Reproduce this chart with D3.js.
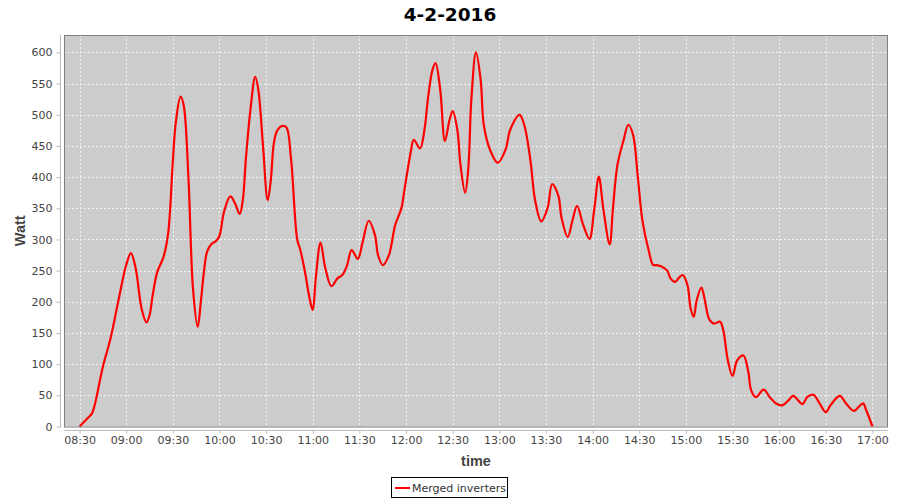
<!DOCTYPE html>
<html>
<head>
<meta charset="utf-8">
<script src="https://cdn.jsdelivr.net/npm/d3@7/dist/d3.min.js"></script>
<style>
  html, body { margin: 0; padding: 0; background: #ffffff; }
  svg { display: block; }
</style>
</head>
<body>
<svg id="chart" width="900" height="500"></svg>
<script>
const chartTitle = "4-2-2016";
const xLabel = "time";
const yLabel = "Watt";
const seriesName = "Merged inverters";
const yTicks = [0, 50, 100, 150, 200, 250, 300, 350, 400, 450, 500, 550, 600];
const xTickLabels = ["08:30","09:00","09:30","10:00","10:30","11:00","11:30","12:00","12:30","13:00","13:30","14:00","14:30","15:00","15:30","16:00","16:30","17:00"];

const times = ["08:30","08:35","08:38","08:40","08:45","08:50","08:55","09:00","09:03","09:06",
  "09:10","09:13","09:15","09:17","09:20","09:24","09:27","09:30","09:32","09:35",
  "09:37","09:40","09:43","09:46","09:48","09:50","09:52","09:55","09:58","10:00",
  "10:03","10:07","10:10","10:13","10:15","10:17","10:20","10:23","10:25","10:28",
  "10:31","10:33","10:35","10:37","10:40","10:43","10:46","10:50","10:52",
  "10:55","10:58","11:00","11:02","11:05","11:08","11:12","11:16","11:19","11:22",
  "11:25","11:29","11:32","11:36","11:40","11:42","11:45","11:49","11:53","11:57",
  "11:59","12:03","12:05","12:09","12:12","12:14","12:17","12:19","12:22","12:25",
  "12:28","12:30","12:33","12:35","12:38","12:40","12:42","12:45","12:48","12:50",
  "12:54","12:59","13:04","13:07","13:13","13:16","13:20","13:23","13:27","13:31",
  "13:34","13:38","13:40","13:44","13:47","13:50","13:54","13:58","14:01","14:04",
  "14:07","14:11","14:13","14:16","14:20","14:23","14:26","14:29","14:32","14:36",
  "14:39","14:41","14:44","14:48","14:50","14:53","14:56","14:58","15:01","15:03",
  "15:05","15:07","15:10","15:12","15:15","15:18","15:22","15:24","15:27","15:30",
  "15:33","15:37","15:40","15:42","15:45","15:50","15:54","15:58","16:02","16:06",
  "16:09","16:15","16:18","16:22","16:26","16:30","16:33","16:39","16:43","16:48",
  "16:51","16:54","16:56","17:00"];
const watts = [0,13,21,37,96,142,202,259,278,255,
  188,167,178,210,248,272,310,425,490,529,
  515,401,220,160,200,248,280,293,298,306,
  345,369,358,341,363,430,510,561,540,450,
  363,395,455,474,482,480,430,300,283,
  248,205,187,240,295,255,225,238,243,258,
  283,269,295,330,307,275,259,275,323,350,
  380,440,460,446,479,524,572,583,540,458,
  492,506,476,420,375,412,524,600,556,484,
  444,423,444,476,500,484,427,363,329,350,
  389,370,335,304,330,354,323,301,347,401,
  347,292,347,420,460,484,468,403,331,283,
  259,259,257,250,238,232,240,243,227,190,
  176,203,223,205,172,165,168,155,106,81,
  106,114,90,58,47,59,47,37,34,42,
  49,36,47,51,37,23,34,49,37,25,
  31,37,26,0];

const parseT = d3.timeParse("%Y-%m-%d %H:%M");
const day = "2016-02-04 ";
const data = times.map((t, i) => ({ t: parseT(day + t), v: watts[i] }));

const svg = d3.select("#chart");
const plot = { left: 64, right: 888, top: 35, bottom: 426.5 };

const x = d3.scaleTime()
  .domain([parseT(day + "08:20"), parseT(day + "17:10")])
  .range([plot.left, plot.right]);
const y = d3.scaleLinear().domain([0, 628]).range([plot.bottom, plot.top]);

const xTickDates = xTickLabels.map(s => parseT(day + s));

// Title
svg.append("text")
  .attr("x", 450).attr("y", 21)
  .attr("text-anchor", "middle")
  .attr("font-family", "DejaVu Sans, sans-serif")
  .attr("font-weight", "bold")
  .attr("font-size", 18.5)
  .attr("fill", "#000")
  .text(chartTitle);

// Plot background
svg.append("rect")
  .attr("x", plot.left).attr("y", plot.top)
  .attr("width", plot.right - plot.left).attr("height", plot.bottom - plot.top)
  .attr("fill", "#cccccc");

// Gridlines
const grid = svg.append("g");
grid.selectAll("line.v").data(xTickDates).enter().append("line")
  .attr("x1", d => Math.round(x(d)) + 0.5).attr("x2", d => Math.round(x(d)) + 0.5)
  .attr("y1", plot.top).attr("y2", plot.bottom)
  .attr("stroke", "#f0f0f0").attr("stroke-width", 1).attr("stroke-dasharray", "2,2");
grid.selectAll("line.h").data(yTicks).enter().append("line")
  .attr("y1", d => Math.round(y(d)) + 0.5).attr("y2", d => Math.round(y(d)) + 0.5)
  .attr("x1", plot.left).attr("x2", plot.right)
  .attr("stroke", "#f0f0f0").attr("stroke-width", 1).attr("stroke-dasharray", "2,2");

// Line
const line = d3.line()
  .x(d => x(d.t)).y(d => y(d.v))
  .curve(d3.curveCatmullRom.alpha(0.5));
svg.append("path")
  .datum(data)
  .attr("d", line)
  .attr("fill", "none")
  .attr("stroke", "#ff0000")
  .attr("stroke-width", 2.2)
  .attr("stroke-linejoin", "round");

// Plot border
svg.append("rect")
  .attr("x", plot.left + 0.5).attr("y", plot.top + 0.5)
  .attr("width", plot.right - plot.left - 1).attr("height", plot.bottom - plot.top)
  .attr("fill", "none").attr("stroke", "#808080").attr("stroke-width", 1);

// Y axis
const yAxis = d3.axisLeft(y).tickValues(yTicks).tickSize(4).tickPadding(4).tickFormat(d3.format("d"));
const gy = svg.append("g").attr("transform", `translate(60.5,0)`).call(yAxis);
gy.select(".domain").attr("stroke", "#bbbbbb").attr("d", `M0,${plot.top}V${plot.bottom + 0.5}`);
gy.selectAll(".tick line").attr("stroke", "#bbbbbb");
gy.selectAll(".tick text")
  .attr("font-family", "DejaVu Sans, sans-serif").attr("font-size", 11).attr("fill", "#444");

// X axis
const xAxis = d3.axisBottom(x).tickValues(xTickDates).tickSize(3).tickPadding(3).tickFormat(d3.timeFormat("%H:%M"));
const gx = svg.append("g").attr("transform", `translate(0,430.5)`).call(xAxis);
gx.select(".domain").attr("stroke", "#bbbbbb").attr("d", `M${plot.left},0H${plot.right}`);
gx.selectAll(".tick line").attr("stroke", "#bbbbbb");
gx.selectAll(".tick text")
  .attr("font-family", "DejaVu Sans, sans-serif").attr("font-size", 11).attr("fill", "#444");

// Axis labels
svg.append("text")
  .attr("x", (plot.left + plot.right) / 2).attr("y", 466)
  .attr("text-anchor", "middle")
  .attr("font-family", "Liberation Sans, Arial, sans-serif")
  .attr("font-weight", "bold").attr("font-size", 14.5).attr("fill", "#444")
  .text(xLabel);
svg.append("text")
  .attr("transform", `translate(25,${(plot.top + plot.bottom) / 2}) rotate(-90)`)
  .attr("text-anchor", "middle")
  .attr("font-family", "Liberation Sans, Arial, sans-serif")
  .attr("font-weight", "bold").attr("font-size", 14.5).attr("fill", "#444")
  .text(yLabel);

// Legend
const lg = svg.append("g");
lg.append("rect")
  .attr("x", 391.5).attr("y", 477.5).attr("width", 116).attr("height", 20)
  .attr("fill", "#fff").attr("stroke", "#000").attr("stroke-width", 1);
lg.append("line")
  .attr("x1", 395).attr("x2", 410).attr("y1", 488).attr("y2", 488)
  .attr("stroke", "#ff0000").attr("stroke-width", 2);
lg.append("text")
  .attr("x", 412).attr("y", 492)
  .attr("font-family", "DejaVu Sans, sans-serif").attr("font-size", 11).attr("fill", "#333")
  .text(seriesName);
</script>
</body>
</html>
